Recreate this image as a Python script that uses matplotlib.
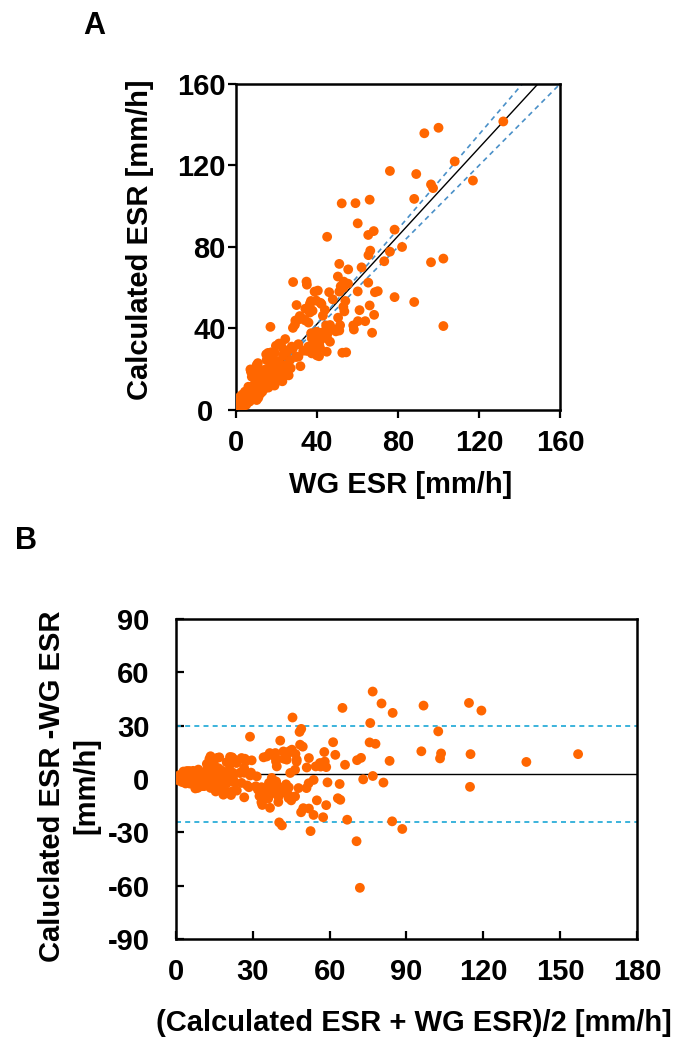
import numpy as np
import matplotlib.pyplot as plt
from matplotlib.transforms import ScaledTranslation

plt.rcParams['font.family'] = ['Liberation Sans', 'DejaVu Sans']
plt.rcParams['font.weight'] = 'bold'
plt.rcParams['axes.unicode_minus'] = False

# paired ESR readings (one point sits above 160 and is clipped there)
wg_esr = [132, 100, 93, 108, 76, 89, 96.3, 97.3, 117, 88, 52.2, 59, 66, 60.1, 68, 65.3,
          78.3, 45, 82, 76, 66.3, 65.4, 73.2, 96.3, 102.4, 51, 55.4, 62, 50.3, 53.2, 55.3,
          53, 65.3, 60.1, 68.6, 70, 78.3, 88, 46, 40.4, 34.8, 35, 28.2, 39.6, 36.5, 36.4,
          42.2, 47.8, 54, 53, 29.9, 61, 66, 68.2, 60.2, 63.8, 58.2, 57.9, 67.2, 102.4, 17,
          54.4, 52.5, 150, 53.5,
          31.5, 29.3, 28.1, 32.7, 36.4, 21.2, 22.2, 24.3, 15.8, 17.4, 10.8, 7.1, 7.4, 16.6,
          19.1, 41, 39.9, 31.8, 22.9, 22.9, 25.4, 29.6, 35, 33.2, 39.3, 38.3,
          14.9, 17.2, 19.7, 23.5, 23.3, 30.8, 38.4, 29.1, 30.6, 34.1, 35.8, 34.2, 37.8, 37,
          41.7, 38.8, 43.9, 42.9, 37.1, 38.8, 42.1, 41.1, 44.4, 46.1, 49.3, 51.4, 50.4, 51,
          51.7,
          27.5, 35.7, 37.4, 44.8, 46.4, 42.3, 44.8, 46.4, 39.8, 40.6, 37.4, 30.8, 26.7, 23.4,
          15.1, 19.3, 22.6, 20.1, 16.8, 13.5, 10.2, 11, 7.8, 13.5, 9.4, 6.1, 11.9, 4.4, 8.5,
          2, 5.3, 1.1, 2.8, 10.2,
          0.5, 0.3, 0.8, 1.5, 1.8, 2.5, 3, 3.2, 3.5, 4, 4.5, 5, 5.5, 6, 6.5, 7, 7.5, 8, 8.5,
          9, 9.5, 10, 10.5, 11, 12, 12.5, 13, 14, 14.5, 15, 15.5, 16, 17, 17.5, 18, 18.5, 19,
          19.5, 20.5, 21, 21.5, 22, 24, 25, 26, 27, 28, 12, 14, 16, 1, 2, 4, 6, 9, 3, 5, 7,
          11, 13,
          41.5, 45, 44.5, 48.5, 51, 41.5, 40.5, 45, 38.5, 44.5]
calc_esr = [141.6, 138.5, 135.8, 122, 117.3, 115.8, 110.7, 108.9, 112.6, 103.6, 101.4, 101.5,
            103.2, 91.6, 87.8, 85.9, 88.5, 85, 80, 77.7, 78.2, 76, 73, 72.5, 74.3, 71.7, 69,
            70, 65.5, 63, 62, 60, 62.5, 58.2, 57.8, 58.3, 55.4, 53, 57.8, 58.6, 63, 61.5, 62.8,
            53.7, 52.2, 50.8, 52, 54.3, 53.5, 50.6, 51.5, 49, 51.3, 46.7, 43.6, 43.6, 39.5,
            41.5, 37.9, 41.2, 40.8, 28.3, 28.1, 164, 48.4,
            46.1, 43.9, 40.3, 44.9, 47.8, 32.6, 32.1, 34.8, 28, 28.3, 23, 19.9, 18.7, 25.6,
            28.1, 26.4, 26.8, 21.5, 14.1, 16, 18.5, 26, 29, 29.1, 31.4, 34.2,
            27.3, 26.2, 31.5, 29.7, 26.7, 32.3, 32.4, 41.8, 44.3, 44, 42.9, 49.7, 48.7, 53.5,
            52.6, 58.1, 49.1, 46.3, 37.7, 34.6, 37.9, 32.3, 35.6, 39.1, 38.6, 41.6, 45.3, 58.1,
            60.7,
            31.1, 31.1, 27.8, 28.6, 33.5, 36, 38.4, 41.7, 38.4, 34.4, 35.2, 26.2, 24.5, 27,
            24.5, 22.1, 21.3, 16.3, 18, 19.6, 22.1, 18.8, 16.3, 14.7, 13.1, 11.4, 10.6, 9, 8.2,
            6.5, 4.9, 3.3, 1.6, 4.9,
            1, 2.5, 5, 2, 4.5, 3, 7.5, 1.5, 5, 3, 7, 2.5, 8.5, 6, 4, 9.5, 7, 11.5, 5.5,
            10, 15, 8, 13, 11, 13.5, 17, 9, 12, 16.5, 20, 13.5, 15.5, 21, 14, 18.5, 23.5, 12,
            20, 24, 18.5, 14.5, 22.5, 22, 28.5, 17, 20.5, 30, 8, 10.5, 11, 0.5, 1, 5, 9, 7, 4,
            5.5, 4.5, 6, 16,
            34.5, 35, 39.5, 39.5, 39, 30.5, 37.5, 37, 29.5, 41.5]

# regression line and its band (panel A), bias and limits of agreement (panel B)
fit_line = (1.08, -1.0)
band_upper = (1.16, -4.0)
band_lower = (1.0, 0.0)
bias = 2.9
loa_upper = 30.0
loa_lower = -24.2

orange = '#FF6600'
fs = 21
dot = 50

wg = np.array(wg_esr)
calc = np.array(calc_esr)
mean_esr = (wg + calc) / 2
diff_esr = calc - wg

fig = plt.figure(figsize=(6.73, 10.43), dpi=100)

# ---- panel A
axA = fig.add_axes([0.3507, 0.6069, 0.4814, 0.3126])
xx = np.array([0, 160])
axA.plot(xx, fit_line[0] * xx + fit_line[1], color='black', lw=1.0, zorder=2)
xd = np.array([20, 160])
for m, b in (band_upper, band_lower):
    axA.plot(xd, m * xd + b, color='#4A90C8', lw=1.2, ls=(0, (3, 2.5)), zorder=2)
axA.scatter(wg, calc, s=dot, color=orange, edgecolors='none', zorder=3)
axA.set_xlim(0, 160)
axA.set_ylim(0, 160)
axA.set_xticks(range(0, 161, 40))
axA.set_yticks(range(0, 161, 40))
axA.tick_params(direction='out', length=6, width=1.6, labelsize=fs)
axA.tick_params(axis='x', pad=8)
axA.tick_params(axis='y', pad=1.5)
for s in axA.spines.values():
    s.set_linewidth(1.8)
# the y "0" sits further left so it clears the x "0"
lab0 = axA.get_yticklabels()[0]
lab0.set_transform(lab0.get_transform() + ScaledTranslation(-0.12, 0, fig.dpi_scale_trans))

fig.text(140 / 673, 1 - 240 / 1043, 'Calculated ESR [mm/h]', rotation=90,
         ha='center', va='center', fontsize=fs)
fig.text(401 / 673, 1 - 485 / 1043, 'WG ESR [mm/h]', ha='center', va='center', fontsize=fs)
fig.text(94 / 673, 1 - 26 / 1043, 'A', ha='center', va='center', fontsize=fs + 1)

# ---- panel B
axB = fig.add_axes([0.2615, 0.0997, 0.685, 0.3068])
axB.axhline(bias, color='black', lw=1.0, zorder=2)
for v in (loa_upper, loa_lower):
    axB.axhline(v, color='#1AA7D6', lw=1.2, ls=(0, (3, 2.5)), zorder=2)
axB.scatter(mean_esr, diff_esr, s=dot, color=orange, edgecolors='none', zorder=3)
axB.set_xlim(0, 180)
axB.set_ylim(-90, 90)
axB.set_xticks(range(0, 181, 30))
axB.set_yticks(range(-90, 91, 30))
axB.tick_params(direction='in', length=6, width=1.6, labelsize=fs)
axB.tick_params(axis='x', pad=14)
axB.tick_params(axis='y', pad=19)
for s in axB.spines.values():
    s.set_linewidth(1.8)

fig.text(69 / 673, 1 - 786 / 1043, 'Caluclated ESR -WG ESR\n[mm/h]', rotation=90,
         ha='center', va='center', fontsize=fs, linespacing=1.3, multialignment='center')
fig.text(414 / 673, 1 - 1023 / 1043, '(Calculated ESR + WG ESR)/2 [mm/h]',
         ha='center', va='center', fontsize=fs)
fig.text(26 / 673, 1 - 541 / 1043, 'B', ha='center', va='center', fontsize=fs + 1)

fig.savefig('out.png', dpi=100)
